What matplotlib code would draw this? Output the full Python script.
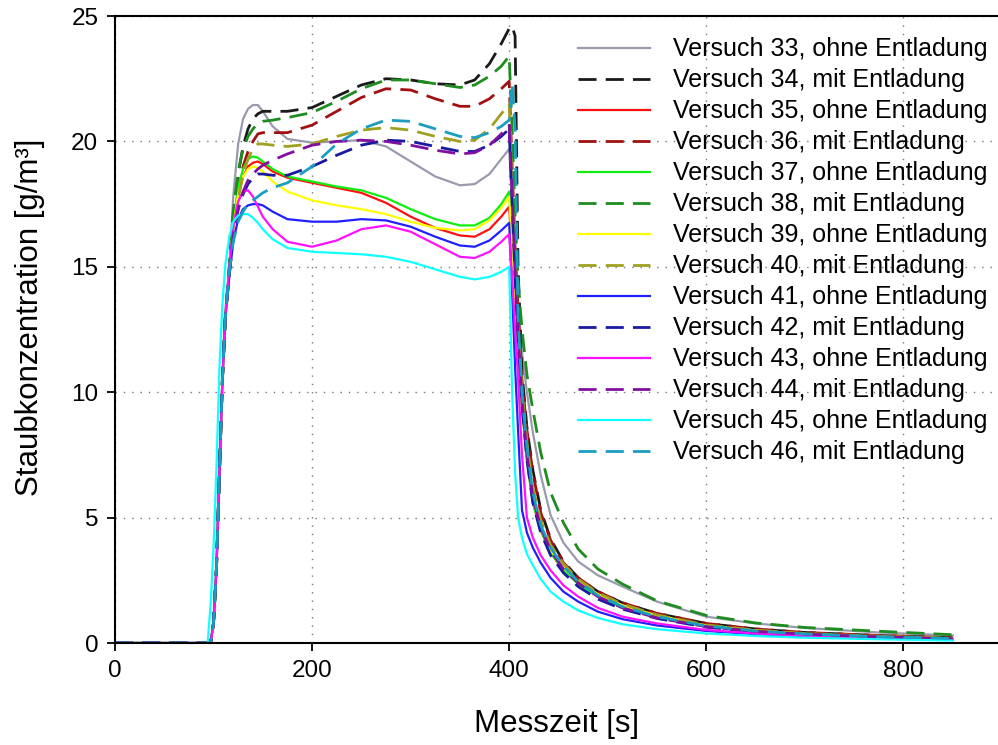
import matplotlib
matplotlib.use("Agg")
import matplotlib.pyplot as plt

plt.rcParams['font.family'] = ['Liberation Sans', 'DejaVu Sans']

# measurement times [s], shared by all runs
TIME = [0, 94, 97, 100, 103, 106, 109, 112,
        116, 120, 125, 130, 135, 140, 145, 150, 160, 175, 200, 225,
        250, 275, 300, 325, 350, 365, 380, 392,
        400, 403, 406, 409, 413, 418, 424, 432, 442, 455, 470, 490,
        515, 550, 600, 650, 700, 775, 850]

# dust concentration [g/m3] per run
v33 = [0, 0, 0, 0.8, 3.0, 6.8, 10.5, 13.3,
       15.0, 17.8, 19.9, 20.9, 21.3, 21.45, 21.45, 21.2, 20.6, 20.1, 19.95, 20.0,
       20.05, 19.8, 19.2, 18.6, 18.25, 18.3, 18.7, 19.3,
       19.7, 17.5, 15.3, 13.5, 11.6, 10.0, 8.4, 6.7, 5.1, 4.0, 3.25, 2.7,
       2.25, 1.65, 1.05, 0.78, 0.6, 0.42, 0.3]
v34 = [0, 0, 0, 0.8, 3.0, 6.8, 10.5, 13.0,
       15.0, 17.0, 18.7, 19.8, 20.5, 20.9, 21.1, 21.2, 21.2, 21.2, 21.35, 21.8,
       22.25, 22.5, 22.45, 22.3, 22.25, 22.45, 23.1, 23.9,
       24.5, 24.6, 24.2, 15.0, 10.8, 8.6, 6.9, 5.3, 4.15, 3.25, 2.6, 2.05,
       1.6, 1.18, 0.78, 0.56, 0.42, 0.3, 0.21]
v35 = [0, 0, 0, 0.8, 3.0, 6.8, 10.5, 13.0,
       14.8, 16.5, 17.8, 18.6, 19.0, 19.15, 19.2, 19.1, 18.8, 18.55, 18.35, 18.15,
       17.95, 17.55, 17.0, 16.55, 16.25, 16.2, 16.5, 17.0,
       17.4, 15.5, 13.5, 11.6, 9.4, 7.3, 5.6, 4.5, 3.6, 2.9, 2.4, 1.9,
       1.45, 1.05, 0.68, 0.48, 0.36, 0.25, 0.17]
v36 = [0, 0, 0, 0.8, 3.0, 6.8, 10.5, 13.0,
       14.8, 16.6, 18.0, 19.0, 19.6, 20.0, 20.3, 20.35, 20.35, 20.35, 20.65, 21.2,
       21.75, 22.1, 22.05, 21.7, 21.4, 21.4, 21.7, 22.1,
       22.4, 19.0, 15.8, 13.3, 10.5, 8.5, 6.8, 5.2, 4.1, 3.2, 2.6, 2.05,
       1.6, 1.18, 0.78, 0.56, 0.42, 0.3, 0.21]
v37 = [0, 0, 0, 0.8, 3.0, 6.8, 10.5, 13.0,
       14.8, 16.8, 18.2, 18.9, 19.3, 19.4, 19.35, 19.2, 18.9, 18.6, 18.4, 18.2,
       18.05, 17.75, 17.3, 16.9, 16.65, 16.65, 16.95, 17.5,
       18.0, 16.0, 13.8, 11.7, 9.4, 7.3, 5.6, 4.5, 3.6, 2.9, 2.35, 1.85,
       1.4, 1.02, 0.66, 0.47, 0.35, 0.24, 0.17]
v38 = [0, 0, 0, 0.8, 3.0, 6.8, 10.5, 13.0,
       15.0, 17.2, 18.8, 19.7, 20.2, 20.5, 20.7, 20.8, 20.85, 20.95, 21.15, 21.6,
       22.1, 22.45, 22.45, 22.3, 22.15, 22.25, 22.6, 23.0,
       23.4, 20.5, 17.0, 14.5, 12.5, 10.7, 9.3, 7.6, 6.0, 4.8, 3.75, 2.95,
       2.35, 1.68, 1.1, 0.8, 0.62, 0.47, 0.33]
v39 = [0, 0, 0, 0.8, 3.0, 6.8, 10.5, 13.0,
       14.8, 16.6, 17.9, 18.6, 18.9, 19.0, 18.95, 18.8, 18.4, 18.0, 17.65, 17.45,
       17.3, 17.1, 16.8, 16.55, 16.45, 16.5, 16.85, 17.35,
       17.8, 15.8, 13.7, 11.8, 9.6, 7.5, 5.8, 4.6, 3.7, 3.0, 2.45, 1.95,
       1.5, 1.1, 0.7, 0.5, 0.37, 0.26, 0.18]
v40 = [0, 0, 0, 0.8, 3.0, 6.8, 10.5, 13.0,
       14.8, 16.4, 17.7, 18.7, 19.3, 19.7, 19.9, 19.9, 19.85, 19.8, 19.9, 20.2,
       20.45, 20.55, 20.45, 20.2, 20.0, 20.05, 20.5, 21.1,
       21.5, 18.0, 15.0, 12.6, 10.1, 8.0, 6.2, 4.9, 3.9, 3.15, 2.55, 2.0,
       1.55, 1.12, 0.72, 0.51, 0.38, 0.27, 0.19]
v41 = [0, 0, 0, 0.8, 3.0, 6.8, 10.5, 13.0,
       14.6, 16.0, 16.9, 17.3, 17.45, 17.5, 17.5, 17.45, 17.2, 16.9, 16.8, 16.8,
       16.9, 16.85, 16.6, 16.2, 15.85, 15.8, 16.05, 16.45,
       16.75, 14.0, 11.0, 8.5, 5.3, 4.4, 3.8, 3.2, 2.6, 2.05, 1.65, 1.25,
       0.95, 0.7, 0.48, 0.35, 0.27, 0.19, 0.13]
v42 = [0, 0, 0, 0.8, 3.0, 6.8, 10.5, 13.0,
       14.7, 16.3, 17.3, 17.9, 18.3, 18.55, 18.7, 18.7, 18.65, 18.65, 19.0, 19.45,
       19.85, 20.05, 20.0, 19.8, 19.6, 19.6, 19.85, 20.2,
       20.5, 17.5, 14.5, 12.0, 9.5, 7.3, 5.6, 4.4, 3.5, 2.8, 2.25, 1.75,
       1.35, 0.98, 0.63, 0.45, 0.34, 0.23, 0.16]
v43 = [0, 0, 0, 0.8, 3.0, 6.8, 10.5, 13.0,
       15.0, 16.6, 17.6, 18.0, 18.05, 17.8, 17.4, 17.0, 16.5, 16.0, 15.8, 16.05,
       16.5, 16.65, 16.4, 15.9, 15.4, 15.35, 15.6, 16.0,
       16.3, 14.5, 12.5, 10.6, 7.5, 5.0, 4.2, 3.5, 2.9, 2.3, 1.85, 1.4,
       1.05, 0.78, 0.52, 0.38, 0.29, 0.2, 0.14]
v44 = [0, 0, 0, 0.8, 3.0, 6.8, 10.5, 13.0,
       14.7, 16.2, 17.3, 18.0, 18.45, 18.7, 18.9, 19.05, 19.25, 19.5, 19.85, 20.0,
       20.05, 20.0, 19.85, 19.65, 19.5, 19.55, 19.85, 20.3,
       20.65, 17.8, 14.8, 12.3, 9.7, 7.5, 5.8, 4.6, 3.7, 2.95, 2.4, 1.85,
       1.4, 1.0, 0.65, 0.46, 0.35, 0.24, 0.17]
v45 = [0, 0, 1.5, 3.8, 7.0, 11.0, 13.5, 15.1,
       16.2, 16.8, 17.05, 17.1, 17.1, 16.95, 16.75, 16.5, 16.1, 15.75, 15.6, 15.55,
       15.5, 15.4, 15.2, 14.9, 14.6, 14.5, 14.6, 14.8,
       15.0, 10.0, 6.8, 5.0, 4.2, 3.55, 3.1, 2.55, 2.05, 1.65, 1.3, 1.0,
       0.75, 0.55, 0.38, 0.28, 0.21, 0.15, 0.1]
v46 = [0, 0, 0, 0.8, 3.0, 6.8, 10.5, 13.0,
       14.8, 16.0, 16.8, 17.2, 17.5, 17.65, 17.8, 17.95, 18.15, 18.35, 19.0, 19.9,
       20.5, 20.85, 20.8, 20.5, 20.2, 20.15, 20.35, 20.6,
       20.85, 22.3, 20.5, 13.0, 10.0, 7.8, 6.0, 4.7, 3.8, 3.05, 2.45, 1.9,
       1.45, 1.05, 0.68, 0.48, 0.36, 0.25, 0.18]

runs = [33, 34, 35, 36, 37, 38, 39, 40, 41, 42, 43, 44, 45, 46]
series = [v33, v34, v35, v36, v37, v38, v39, v40, v41, v42, v43, v44, v45, v46]
colors = ['#9a9aae', '#1a1a1a', '#ff1010', '#a01010', '#10ee10', '#1e8c1e', '#ffff00',
          '#a0a020', '#2020ff', '#1a1aa0', '#ff10ff', '#8010a0', '#10ffff', '#1a9ec0']

fig = plt.figure(figsize=(9.98, 7.45), dpi=100)
ax = fig.add_axes([0.1152, 0.1369, 0.8848, 0.8416])

for run, vals, col in zip(runs, series, colors):
    if run % 2 == 0:
        ax.plot(TIME, vals, color=col, lw=2.0, dashes=(6.5, 3.3),
                label='Versuch %d, mit Entladung' % run)
    else:
        ax.plot(TIME, vals, color=col, lw=1.6,
                label='Versuch %d, ohne Entladung' % run)

ax.set_xlim(0, 896)
ax.set_ylim(0, 25)
ax.set_xticks([0, 200, 400, 600, 800])
ax.set_yticks([0, 5, 10, 15, 20, 25])
ax.grid(True, linestyle=(0, (1, 5)), color='#777777', linewidth=1.0)
ax.tick_params(direction='out', length=6, width=1.3, labelsize=17.5, pad=6)
for s in ['left', 'bottom', 'top']:
    ax.spines[s].set_linewidth(1.5)
ax.spines['right'].set_visible(False)

ax.set_xlabel('Messzeit [s]', fontsize=22.5, labelpad=20)
ax.set_ylabel('Staubkonzentration [g/m³]', fontsize=22.5)
ax.yaxis.set_label_coords(-0.079, 0.52)

ax.legend(frameon=False, loc='upper left', bbox_to_anchor=(0.524, 0.966),
          fontsize=18, handlelength=2.9, handletextpad=0.9, labelspacing=0.28,
          borderaxespad=0, borderpad=0)

fig.savefig('out.png', dpi=100, facecolor='white')
